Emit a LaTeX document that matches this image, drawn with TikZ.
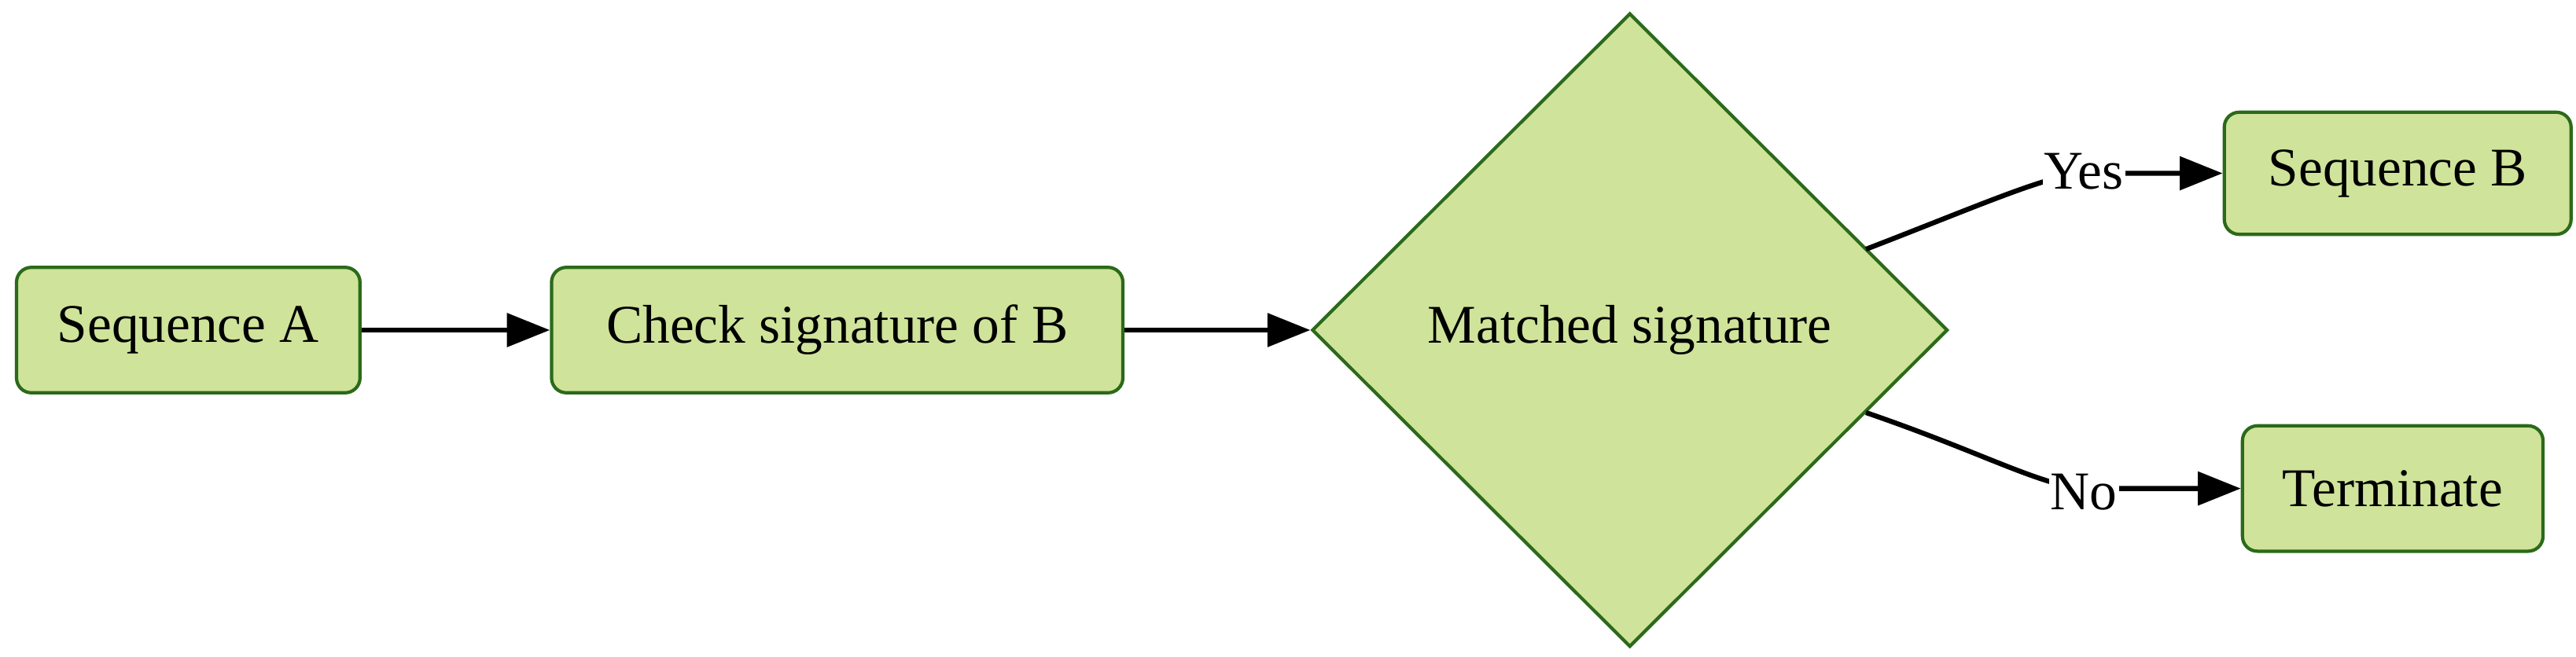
\documentclass[tikz,border=0pt]{standalone}
\usepackage{fontspec}
\setmainfont{Liberation Serif}
\usetikzlibrary{shapes.geometric,arrows.meta}
\definecolor{fillg}{HTML}{CFE39A}
\definecolor{lineg}{HTML}{2B6A1A}
\begin{document}
\begin{tikzpicture}[x=1pt,y=-1pt,
  box/.style={draw=lineg,fill=fillg,line width=2pt,rounded corners=9pt,inner sep=0pt,font=\fontsize{33}{38}\selectfont},
  arr/.style={line width=3pt,-{Triangle[length=26pt,width=20pt]}},
  lab/.style={fill=white,inner sep=1pt,font=\fontsize{33}{38}\selectfont}]
\useasboundingbox (0,0) rectangle (1560,398);
\node[box,minimum width=208pt,minimum height=76pt] (a) at (114,200) {Sequence A};
\node[box,minimum width=346pt,minimum height=76pt] (c) at (507,200) {Check signature of B};
\node[draw=lineg,fill=fillg,line width=2pt,diamond,minimum width=385pt,minimum height=384pt,inner sep=0pt,font=\fontsize{33}{38}\selectfont] (d) at (987,200) {Matched signature};
\node[box,minimum width=210pt,minimum height=74pt] (b) at (1452,105) {Sequence B};
\node[box,minimum width=182pt,minimum height=76pt] (t) at (1449,296) {Terminate};
\draw[arr] (a) -- (c);
\draw[arr] (c.east) -- (d.west);
\coordinate (y0) at (1130,151);
\coordinate (n0) at (1130,250);
\draw[arr] (y0) .. controls (1200,124) and (1240,106) .. (1262,105) -- (b.west);
\draw[arr] (n0) .. controls (1200,274) and (1235,294) .. (1262,296) -- (t.west);
\node[lab] (yes) at (1262,104) {Yes};
\node[lab] (no) at (1262,298) {No};
\end{tikzpicture}
\end{document}
